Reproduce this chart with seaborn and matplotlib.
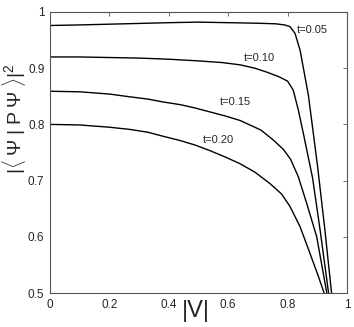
import seaborn as sns
import pandas as pd
import matplotlib.pyplot as plt

# overlap |<psi|P psi>|^2 versus |V| for four values of t
v_005 = [0, 0.1, 0.25, 0.4, 0.5, 0.6, 0.7, 0.76, 0.79, 0.808, 0.825, 0.842, 0.870, 0.901, 0.925, 0.948]
p_005 = [0.976, 0.977, 0.979, 0.981, 0.982, 0.981, 0.980, 0.979, 0.977, 0.974, 0.962, 0.932, 0.852, 0.725, 0.615, 0.50]

v_010 = [0, 0.1, 0.2, 0.3, 0.4, 0.5, 0.58, 0.64, 0.69, 0.73, 0.77, 0.80, 0.819, 0.836, 0.853, 0.884, 0.91, 0.938]
p_010 = [0.920, 0.920, 0.919, 0.918, 0.916, 0.913, 0.910, 0.906, 0.900, 0.893, 0.885, 0.877, 0.861, 0.826, 0.784, 0.705, 0.61, 0.50]

v_015 = [0, 0.1, 0.2, 0.27, 0.33, 0.38, 0.44, 0.49, 0.54, 0.59, 0.64, 0.71, 0.75, 0.785, 0.81, 0.836, 0.864, 0.898, 0.932]
p_015 = [0.859, 0.858, 0.854, 0.849, 0.845, 0.840, 0.835, 0.829, 0.822, 0.815, 0.807, 0.790, 0.773, 0.756, 0.738, 0.707, 0.660, 0.600, 0.50]

v_020 = [0, 0.1, 0.2, 0.27, 0.33, 0.38, 0.44, 0.49, 0.54, 0.59, 0.64, 0.69, 0.74, 0.78, 0.808, 0.842, 0.875, 0.904, 0.923]
p_020 = [0.800, 0.799, 0.795, 0.791, 0.786, 0.779, 0.771, 0.763, 0.753, 0.742, 0.730, 0.715, 0.695, 0.676, 0.654, 0.618, 0.571, 0.529, 0.50]

t_labels = ["t=0.05", "t=0.10", "t=0.15", "t=0.20"]
label_v = [0.830, 0.651, 0.572, 0.515]
label_p = [0.968, 0.919, 0.840, 0.772]

x_ticks = [0, 0.2, 0.4, 0.6, 0.8, 1]
y_ticks = [0.5, 0.6, 0.7, 0.8, 0.9, 1]

frames = []
for t, v, p in zip(t_labels, [v_005, v_010, v_015, v_020], [p_005, p_010, p_015, p_020]):
    frames.append(pd.DataFrame({"V": v, "P": p, "t": t}))
data = pd.concat(frames, ignore_index=True)

sns.set_style("white")
plt.rcParams["font.family"] = ["Liberation Sans", "DejaVu Sans"]
plt.rcParams["mathtext.fontset"] = "custom"
plt.rcParams["mathtext.rm"] = "Liberation Sans"
plt.rcParams["mathtext.it"] = "Liberation Sans:italic"

fig = plt.figure(figsize=(3.54, 3.27), dpi=100)
ax = fig.add_axes([50 / 354, 34 / 327, 297 / 354, 281 / 327])

sns.lineplot(data=data, x="V", y="P", units="t", estimator=None, sort=False,
             color="black", linewidth=1.0, ax=ax, legend=False)

for lab, lv, lp in zip(t_labels, label_v, label_p):
    ax.text(lv, lp, lab, fontsize=8, ha="left", va="center")

ax.set_xlim(0, 1)
ax.set_ylim(0.5, 1)
ax.set_xticks(x_ticks)
ax.set_xticklabels([f"{x:g}" for x in x_ticks])
ax.set_yticks(y_ticks)
ax.set_yticklabels([f"{y:g}" for y in y_ticks])
ax.tick_params(direction="in", length=3, width=0.6, color="#555555",
               labelsize=8.5, top=True, right=True, pad=4)
for s in ax.spines.values():
    s.set_color("#555555")
    s.set_linewidth(0.8)

ax.set_xlabel("|V|", fontsize=17)
ax.xaxis.set_label_coords(0.49, -0.025)
ax.set_ylabel(r"$|\langle\;\Psi\;|\;\mathrm{P}\;\Psi\;\rangle|^2$", fontsize=14)
ax.yaxis.set_label_coords(-0.075, 0.62)

plt.savefig("out.png", dpi=100)
